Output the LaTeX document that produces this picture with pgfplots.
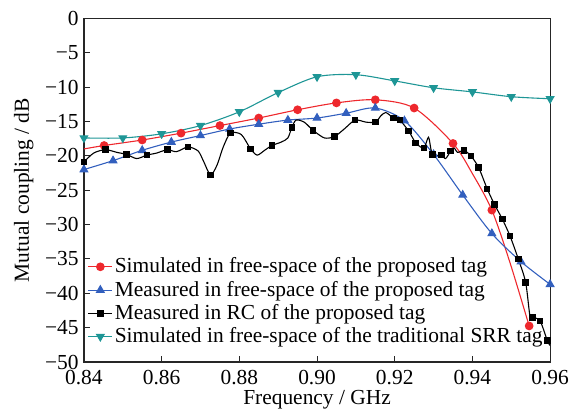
\documentclass[border={7bp 0bp 0bp 4bp}]{standalone}
\usepackage{fontspec}
\setmainfont{Liberation Serif}
\usepackage{pgfplots}
\pgfplotsset{compat=1.18}
\definecolor{cred}{RGB}{238,40,45}
\definecolor{cblue}{RGB}{50,95,190}
\definecolor{cteal}{RGB}{30,150,150}

\begin{document}
\fontsize{21.5bp}{25bp}\selectfont
\begin{tikzpicture}
\begin{axis}[
  scale only axis, width=468bp, height=345bp,
  xmin=0.84, xmax=0.96, ymin=-50, ymax=0,
  xtick={0.84,0.86,0.88,0.90,0.92,0.94,0.96},
  xticklabels={0.84,0.86,0.88,0.90,0.92,0.94,0.96},
  ytick={-50,-45,-40,-35,-30,-25,-20,-15,-10,-5,0},
  yticklabels={−50,−45,−40,−35,−30,−25,−20,−15,−10,−5,0},
  tick align=inside, xtick pos=bottom, ytick pos=left,
  major tick length=6bp,
  axis line style={line width=1.2bp, black!85},
  every tick/.style={line width=1bp, black!85},
  tick label style={font=\fontsize{21.5bp}{25bp}\selectfont},
  label style={font=\fontsize{21.5bp}{25bp}\selectfont},
  xticklabel style={yshift=-1bp},
  yticklabel style={xshift=2bp},
  xlabel={Frequency / GHz}, ylabel={Mutual coupling / dB},
  xlabel style={yshift=3bp, inner sep=1bp}, ylabel style={yshift=-3bp},
  legend style={at={(0.008,0.31)}, anchor=north west, draw=none, fill=none,
    font=\fontsize{21.5bp}{25bp}\selectfont, inner sep=0pt, row sep=1bp},
  legend cell align=left,
  legend image code/.code={\draw[mark indices={2}] plot coordinates {(0bp,0bp) (12bp,0bp) (24bp,0bp)};},
]
\addplot[cred, line width=1.1bp, smooth, tension=0.5, mark=*, mark size=3.8bp,
  mark indices={2,3,4,5,6,7,8,9,10,11,13,15}] coordinates {
(0.8400,-19.0) (0.8452,-18.5) (0.855,-17.7) (0.865,-16.7) (0.875,-15.6)
(0.885,-14.5) (0.895,-13.3) (0.905,-12.3) (0.915,-11.85) (0.925,-13.05)
(0.935,-18.2) (0.940,-22.6) (0.945,-27.9) (0.9497,-35.6) (0.9546,-44.75)
};
\addlegendentry{Simulated in free-space of the proposed tag}
\addplot[cblue, line width=1.1bp, smooth, tension=0.5, mark=triangle*, mark size=4.3bp] coordinates {
(0.8400,-22.0) (0.8475,-20.7) (0.8550,-19.2) (0.8625,-18.0) (0.8700,-17.05)
(0.8775,-16.1) (0.8850,-15.4) (0.8925,-14.8) (0.9000,-14.5) (0.9075,-13.8)
(0.9150,-13.05) (0.9225,-14.9) (0.9300,-19.8) (0.9375,-25.7) (0.9450,-31.3)
(0.9525,-35.4) (0.9600,-38.7)
};
\addlegendentry{Measured in free-space of the proposed tag}
\addplot[black, line width=1.1bp, smooth, tension=0.45, mark=square*, mark size=2.7bp,
  mark indices={1,3,5,7,9,11,14,17,19,22,25,28,30,32,34,37,38,39,40,41,43,44,46,49,50,51,52,53,54,55,56,57,59,60,61}] coordinates {
(0.8400,-20.9) (0.8425,-19.6) (0.8455,-19.1) (0.8485,-19.5) (0.8510,-19.8)
(0.8536,-20.4) (0.8562,-19.9) (0.8587,-19.6) (0.8615,-19.1) (0.8638,-19.4)
(0.8668,-18.7) (0.8694,-19.3) (0.8708,-20.8) (0.8726,-22.8) (0.8743,-21.3)
(0.8758,-18.8) (0.8777,-16.7) (0.8805,-16.9) (0.8829,-19.0) (0.8846,-19.9)
(0.8865,-19.2) (0.8884,-18.5) (0.8908,-18.0) (0.8925,-17.4) (0.8935,-15.9)
(0.8946,-14.8) (0.8967,-15.1) (0.8990,-16.3) (0.9019,-17.4) (0.9045,-17.2)
(0.9070,-16.1) (0.9098,-14.8) (0.9126,-15.1) (0.9151,-15.1) (0.9164,-14.2)
(0.9177,-13.7) (0.9197,-14.5) (0.9213,-14.8) (0.9236,-16.4) (0.9254,-18.1)
(0.9275,-18.9) (0.9287,-17.3) (0.9297,-19.8) (0.9320,-19.9) (0.9331,-20.4)
(0.9344,-19.3) (0.9352,-18.8) (0.9362,-19.5) (0.9378,-19.2) (0.9396,-20.0)
(0.9416,-21.7) (0.9438,-24.8) (0.9457,-27.1) (0.9477,-29.2) (0.9497,-31.7)
(0.9518,-35.0) (0.9537,-38.4) (0.9548,-43.3) (0.9555,-43.5) (0.9574,-44.0)
(0.9593,-46.9) (0.9600,-47.6)
};
\addlegendentry{Measured in RC of the proposed tag}
\addplot[cteal, line width=1.1bp, smooth, tension=0.5, mark=triangle*, mark options={rotate=180}, mark size=4.3bp] coordinates {
(0.84,-17.4) (0.85,-17.4) (0.86,-16.8) (0.87,-15.6) (0.88,-13.6)
(0.89,-10.8) (0.90,-8.5) (0.91,-8.2) (0.92,-9.1) (0.93,-10.1)
(0.94,-10.7) (0.95,-11.4) (0.96,-11.7)
};
\addlegendentry{Simulated in free-space of the traditional SRR tag}
\end{axis}
\end{tikzpicture}
\end{document}
